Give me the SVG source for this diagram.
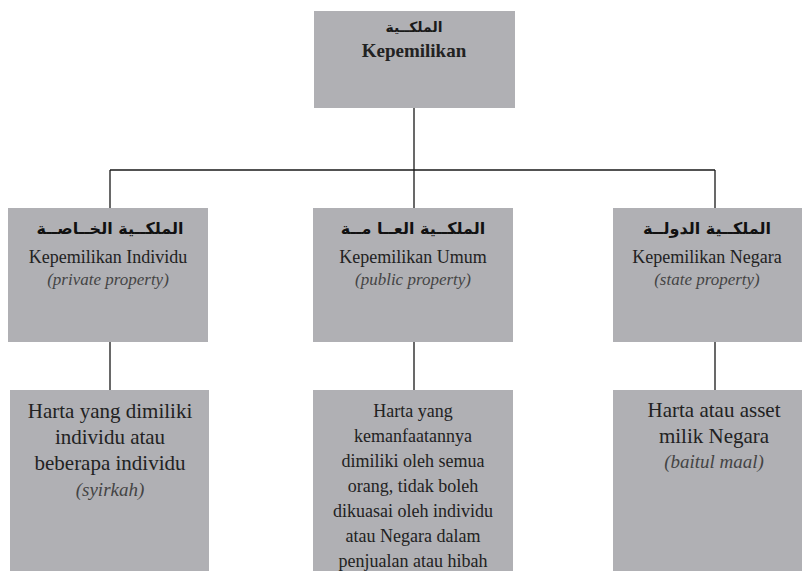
<svg xmlns="http://www.w3.org/2000/svg" width="802" height="571" viewBox="0 0 802 571">
<style>
.box{fill:#b0b0b4;}
.ln{stroke:#1a1a1a;stroke-width:1.3;fill:none;}
.ar{font-family:"DejaVu Sans",sans-serif;font-weight:bold;font-size:14px;fill:#1a1a1a;text-anchor:middle;}
.ar2{font-family:"DejaVu Sans",sans-serif;font-weight:bold;font-size:16px;fill:#111;text-anchor:middle;}
.t{font-family:"Liberation Serif",serif;font-size:18px;fill:#222;text-anchor:middle;}
.tb{font-family:"Liberation Serif",serif;font-size:19px;font-weight:bold;fill:#222;text-anchor:middle;}
.it{font-family:"Liberation Serif",serif;font-style:italic;font-size:17px;fill:#444;text-anchor:middle;}
.b1{font-family:"Liberation Serif",serif;font-size:21px;fill:#222;text-anchor:middle;}
.b2{font-family:"Liberation Serif",serif;font-size:18px;fill:#222;text-anchor:middle;}
.bi{font-family:"Liberation Serif",serif;font-style:italic;font-size:19px;fill:#444;text-anchor:middle;}
</style>
<rect width="802" height="571" fill="#ffffff"/>
<g id="connectors">
<path class="ln" d="M414 108 V170 M110 170 H715 M110 170 V208 M414 170 V208 M715 170 V208"/>
<path class="ln" d="M110 342 V390 M414 342 V390 M715 342 V390"/>
</g>
<g id="root">
<rect class="box" x="314" y="11" width="201" height="97"/>
<text class="ar" x="414" y="32">الملكــية</text>
<text class="tb" x="414" y="57">Kepemilikan</text>
</g>
<g id="private">
<rect class="box" x="8" y="208" width="200" height="134"/>
<text class="ar2" x="110" y="234">الملكــية الخــاصــة</text>
<text class="t" x="108" y="263">Kepemilikan Individu</text>
<text class="it" x="108" y="285">(private property)</text>
</g>
<g id="public">
<rect class="box" x="313" y="208" width="200" height="134"/>
<text class="ar2" x="413" y="234">الملكــية العــا مــة</text>
<text class="t" x="413" y="263">Kepemilikan Umum</text>
<text class="it" x="413" y="285">(public property)</text>
</g>
<g id="state">
<rect class="box" x="613" y="208" width="189" height="134"/>
<text class="ar2" x="707" y="234">الملكــية الدولــة</text>
<text class="t" x="707" y="263">Kepemilikan Negara</text>
<text class="it" x="707" y="285">(state property)</text>
</g>
<g id="private-desc">
<rect class="box" x="10" y="390" width="199" height="181"/>
<text class="b1" x="110" y="418">Harta yang dimiliki</text>
<text class="b1" x="110" y="444">individu atau</text>
<text class="b1" x="110" y="470">beberapa individu</text>
<text class="bi" x="110" y="496">(syirkah)</text>
</g>
<g id="public-desc">
<rect class="box" x="313" y="390" width="200" height="181"/>
<text class="b2" x="413" y="417">Harta yang</text>
<text class="b2" x="413" y="442">kemanfaatannya</text>
<text class="b2" x="413" y="467">dimiliki oleh semua</text>
<text class="b2" x="413" y="492">orang, tidak boleh</text>
<text class="b2" x="413" y="517">dikuasai oleh individu</text>
<text class="b2" x="413" y="542">atau Negara dalam</text>
<text class="b2" x="413" y="567">penjualan atau hibah</text>
</g>
<g id="state-desc">
<rect class="box" x="613" y="390" width="189" height="181"/>
<text class="b1" x="714" y="417">Harta atau asset</text>
<text class="b1" x="714" y="443">milik Negara</text>
<text class="bi" x="714" y="468">(baitul maal)</text>
</g>
</svg>
